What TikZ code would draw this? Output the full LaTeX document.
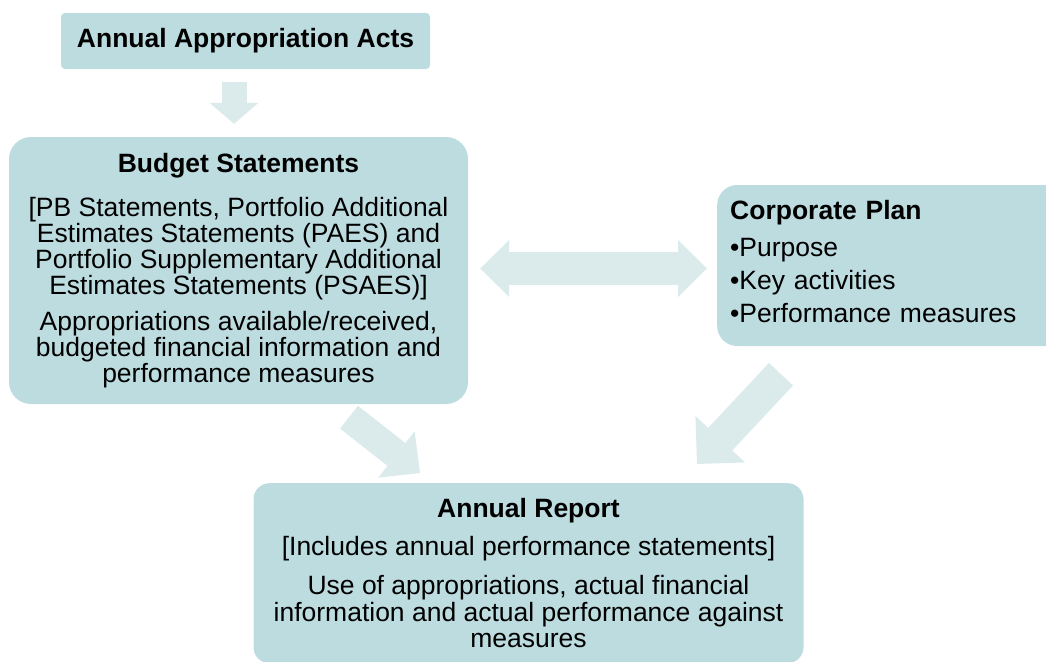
\documentclass[tikz,border=0pt]{standalone}
\usepackage{fontspec}
\setmainfont{Liberation Sans}
\usetikzlibrary{arrows.meta,calc,positioning}
\definecolor{boxteal}{RGB}{189,220,224}
\definecolor{arrowteal}{RGB}{219,235,236}

\begin{document}
\begin{tikzpicture}[x=1pt,y=-1pt,line join=round,
  box/.style={fill=boxteal,inner sep=0pt,align=center,
   font=\fontsize{26.5}{26}\selectfont},
  fatarrow/.style={draw=arrowteal,line cap=butt}]
 \useasboundingbox (0,0) rectangle (1046,661);
 % Ustawy na gorze i dokumenty budzetowe pod nimi.
 \node[box,rounded corners=4pt,minimum width=369pt,minimum height=56pt]
  (acts) at (245.5,41) {\bfseries Annual Appropriation Acts};
 \node[box,rounded corners=22pt,minimum width=459pt,minimum height=267pt]
  (budget) at (238.5,270.5)
  {{\bfseries Budget Statements}\\[18pt]
   {[}PB Statements, Portfolio Additional\\
   Estimates Statements (PAES) and\\
   Portfolio Supplementary Additional\\
   Estimates Statements (PSAES)]\\[10pt]
   Appropriations available/received,\\
   budgeted financial information and\\
   performance measures};
 % Plan korporacyjny, ucięty przy prawym brzegu.
 \node[box,rounded corners=20pt,align=left,text width=340pt,inner xsep=13pt,
  minimum height=161pt,anchor=west,font=\fontsize{26.5}{33}\selectfont]
  (corp) at (717,265.5)
  {{\bfseries Corporate Plan}\\[4pt]
   •Purpose\\
   •Key activities\\
   •Performance measures\rule[-8pt]{0pt}{8pt}};
 % Sprawozdanie roczne na dole.
 \node[box,rounded corners=16pt,minimum width=550pt,minimum height=180pt,
  anchor=north,font=\fontsize{26.5}{26.5}\selectfont]
  (report) at (528.5,483)
  {{\bfseries Annual Report}\\[11pt]
   {[}Includes annual performance statements]\\[13pt]
   Use of appropriations, actual financial\\
   information and actual performance against\\
   measures};
 % Grube strzalki miedzy dokumentami.
 \draw[fatarrow,line width=25pt,
  -{Triangle[width=49pt,length=21pt,line width=0pt]}]
  ($(acts.south)+(-11.5,13)$) -- ($(budget.north)+(-4.5,-13)$);
 \draw[fatarrow,line width=33pt,
  {Triangle[width=57pt,length=29pt,line width=0pt]}-{Triangle[width=57pt,length=29pt,line width=0pt]}]
  ($(budget.east)+(12,-2)$) -- ($(corp.west)+(-10,3)$);
 \draw[fatarrow,line width=29pt,
  -{Triangle[width=59pt,length=30pt,line width=0pt]}]
  ($(budget.south)+(110.5,13)$) -- ($(report.north)+(-108.5,-10)$);
 \draw[fatarrow,line width=33pt,
  -{Triangle[width=68pt,length=34pt,line width=0pt]}]
  ($(corp.south west)+(64,28)$) -- ($(report.north)+(168.5,-19)$);
\end{tikzpicture}
\end{document}
